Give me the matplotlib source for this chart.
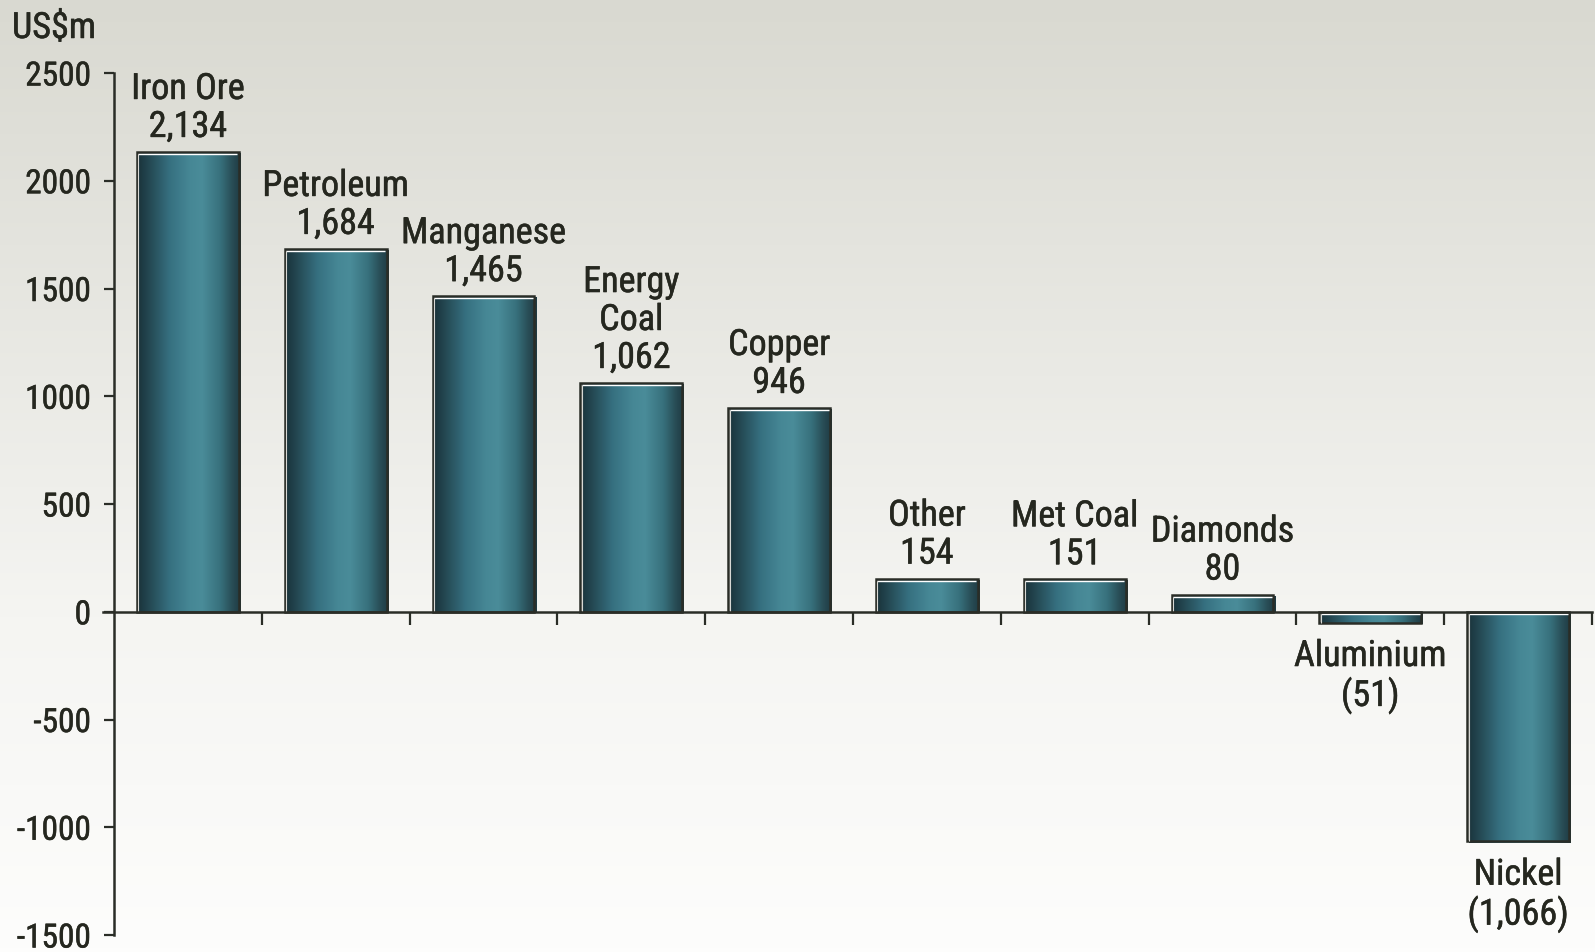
import numpy as np
import matplotlib
matplotlib.use("Agg")
import matplotlib.pyplot as plt
import matplotlib.patheffects as pe
from matplotlib.colors import LinearSegmentedColormap
from matplotlib import font_manager

categories = ["Iron Ore", "Petroleum", "Manganese", "Energy\nCoal", "Copper",
              "Other", "Met Coal", "Diamonds", "Aluminium", "Nickel"]
values = [2134, 1684, 1465, 1062, 946, 154, 151, 80, -51, -1066]
value_labels = ["2,134", "1,684", "1,465", "1,062", "946", "154", "151", "80", "(51)", "(1,066)"]
yticks = [-1500, -1000, -500, 0, 500, 1000, 1500, 2000, 2500]
unit_label = "US$m"

available = {f.name for f in font_manager.fontManager.ttflist}
fam = "DejaVu Sans"
for cand in ["Liberation Sans Narrow", "Roboto Condensed", "Liberation Sans"]:
    if cand in available:
        fam = cand
        break
plt.rcParams['font.family'] = [fam, 'DejaVu Sans']
txt_color = '#25271f'
line_color = '#2a2d27'
bold_fx = [pe.withStroke(linewidth=0.35, foreground=txt_color)]

W, H = 1595, 952
fig = plt.figure(figsize=(W / 100, H / 100), dpi=100)

# background gradient
bg = fig.add_axes([0, 0, 1, 1], zorder=0)
bg_cmap = LinearSegmentedColormap.from_list(
    'bg', [(0.0, '#fdfdfc'), (0.35, '#f5f5f2'), (1.0, '#d9d9d1')])
grad = np.linspace(0, 1, 256).reshape(-1, 1)
bg.imshow(grad, cmap=bg_cmap, aspect='auto', extent=[0, 1, 0, 1], origin='lower')
bg.axis('off')

left_px, right_px, top_px, bot_px = 114, 1592, 73, 935
ax = fig.add_axes([left_px / W, (H - bot_px) / H, (right_px - left_px) / W, (bot_px - top_px) / H], zorder=1)
ax.patch.set_alpha(0)

x = np.arange(len(categories)) + 0.5
bars = ax.bar(x, values, width=0.69, facecolor='none', edgecolor=line_color,
              linewidth=1.8, zorder=4)

bar_cmap = LinearSegmentedColormap.from_list(
    'bar', [(0.0, '#1b353d'), (0.12, '#264c57'), (0.3, '#367080'),
            (0.5, '#468795'), (0.62, '#4a8c99'), (0.8, '#37707c'),
            (0.92, '#284c55'), (1.0, '#1f3a42')])
row = np.linspace(0, 1, 256).reshape(1, -1)

px_x = 10 / (right_px - left_px)
px_y = 4000 / (bot_px - top_px)
for b in bars:
    x0, x1 = b.get_x(), b.get_x() + b.get_width()
    y0, y1 = sorted([b.get_y(), b.get_y() + b.get_height()])
    ax.imshow(row, cmap=bar_cmap, extent=[x0 + 2 * px_x, x1 + 2 * px_x, y0 - 1.5 * px_y, y1 - 2 * px_y],
              aspect='auto', zorder=3, interpolation='bilinear')
    ax.plot([x0 + 1.5 * px_x, x1 - 1.5 * px_x], [y1 - 2 * px_y] * 2, color='white', lw=1.0, zorder=5,
            solid_capstyle='butt')
    ax.plot([x0 + 1.5 * px_x] * 2, [y0, y1 - 2 * px_y], color='#d8d8d4', lw=0.8, zorder=5,
            solid_capstyle='butt')

ax.set_xlim(0, 10)
ax.set_ylim(-1500, 2500)

for s in ['top', 'right']:
    ax.spines[s].set_visible(False)
ax.spines['left'].set_bounds(-1500, 2500)
ax.spines['left'].set_linewidth(1.8)
ax.spines['left'].set_color(line_color)
ax.spines['bottom'].set_position(('data', 0))
ax.spines['bottom'].set_bounds(-0.075, 10)
ax.spines['bottom'].set_linewidth(1.8)
ax.spines['bottom'].set_color(line_color)
ax.spines['bottom'].set_zorder(6)

ax.set_yticks(yticks)
ax.set_yticklabels([str(t) for t in yticks])
ax.tick_params(axis='y', direction='out', length=7.5, width=1.6, color=line_color,
               labelsize=24, labelcolor=txt_color, pad=9)
for lbl in ax.get_yticklabels():
    lbl.set_path_effects(bold_fx)
ax.set_xticks(np.arange(1, 11))
ax.set_xticklabels([])
ax.tick_params(axis='x', direction='out', length=9, width=1.6, color=line_color)

for xi, v, c, lab in zip(x, values, categories, value_labels):
    t = c + "\n" + lab
    if v >= 0:
        ax.annotate(t, (xi, v), xytext=(0, 5), textcoords='offset points', ha='center', va='bottom',
                    fontsize=26, color=txt_color, linespacing=1.07, zorder=7, path_effects=bold_fx)
    else:
        ax.annotate(t, (xi, v), xytext=(0, -11), textcoords='offset points', ha='center', va='top',
                    fontsize=26, color=txt_color, linespacing=1.07, zorder=7, path_effects=bold_fx)

fig.text(12 / W, 1 - 38 / H, unit_label, fontsize=26, color=txt_color, ha='left', va='baseline',
         path_effects=bold_fx)

fig.savefig('out.png', dpi=100)
